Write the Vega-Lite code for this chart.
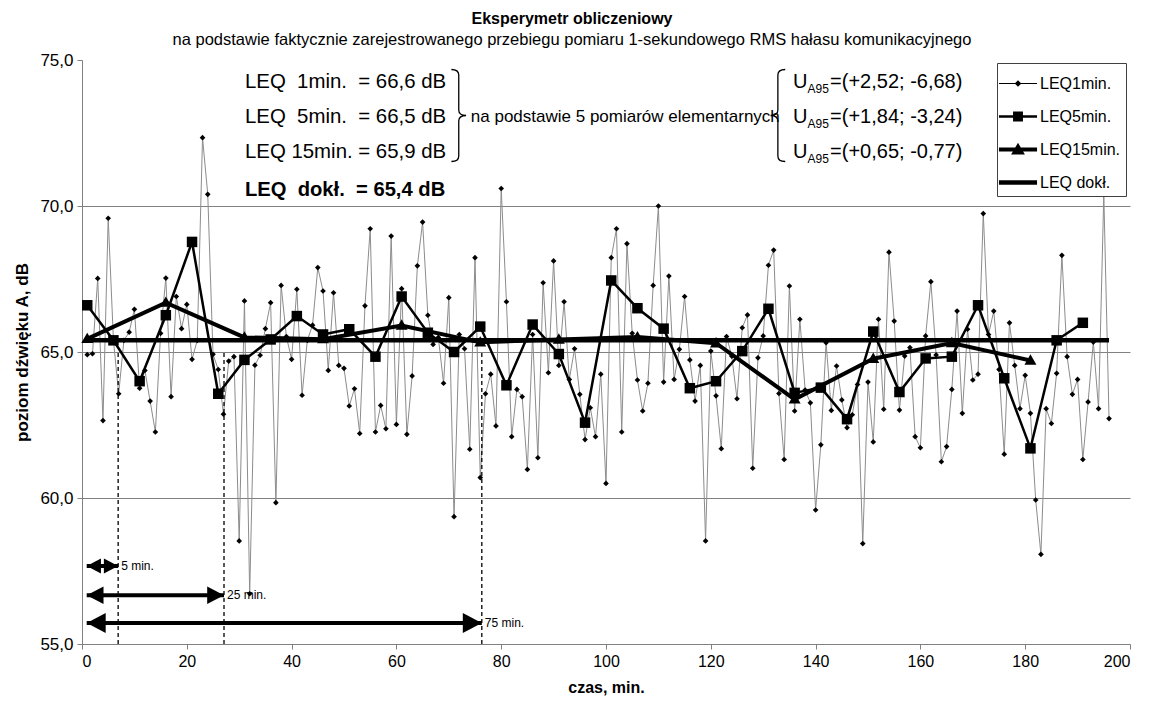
{
  "$schema": "https://vega.github.io/schema/vega-lite/v6.json",
  "width": 1048,
  "height": 584,
  "autosize": {"type": "none"},
  "padding": {"left": 82, "top": 60, "right": 19, "bottom": 66},
  "background": "white",
  "config": {
    "font": "Liberation Sans",
    "view": {"stroke": null},
    "axis": {
      "labelFont": "Liberation Sans",
      "titleFont": "Liberation Sans",
      "labelColor": "black",
      "titleColor": "black",
      "domainColor": "#808080",
      "tickColor": "#808080",
      "tickSize": 5
    }
  },
  "title": {
    "text": "Eksperymetr obliczeniowy",
    "subtitle": "na podstawie faktycznie zarejestrowanego przebiegu pomiaru 1-sekundowego RMS hałasu komunikacyjnego",
    "anchor": "middle",
    "frame": "group",
    "dx": -34,
    "offset": 3,
    "font": "Liberation Sans",
    "fontSize": 16,
    "fontWeight": "bold",
    "color": "black",
    "subtitleFont": "Liberation Sans",
    "subtitleFontSize": 16.5,
    "subtitleColor": "black",
    "subtitlePadding": 5
  },
  "datasets": {
    "leq1": [
      {"t":1,"v":64.91},{"t":2,"v":64.94},{"t":3,"v":67.52},{"t":4,"v":62.65},{"t":5,"v":69.58},
      {"t":6,"v":65.4},{"t":7,"v":63.57},{"t":8,"v":65.4},{"t":9,"v":65.68},{"t":10,"v":66.46},
      {"t":11,"v":63.76},{"t":12,"v":64.37},{"t":13,"v":63.32},{"t":14,"v":62.26},{"t":15,"v":65.64},
      {"t":16,"v":67.53},{"t":17,"v":63.47},{"t":18,"v":66.9},{"t":19,"v":65.8},{"t":20,"v":66.63},
      {"t":21,"v":64.75},{"t":22,"v":65.4},{"t":23,"v":72.34},{"t":24,"v":70.4},{"t":25,"v":64.92},
      {"t":26,"v":64.4},{"t":27,"v":62.87},{"t":28,"v":64.69},{"t":29,"v":64.84},{"t":30,"v":58.53},
      {"t":31,"v":66.75},{"t":32,"v":56.72},{"t":33,"v":64.55},{"t":34,"v":64.89},{"t":35,"v":65.8},
      {"t":36,"v":66.69},{"t":37,"v":59.84},{"t":38,"v":67.28},{"t":39,"v":65.53},{"t":40,"v":64.75},
      {"t":41,"v":67.15},{"t":42,"v":63.52},{"t":43,"v":65.4},{"t":44,"v":65.92},{"t":45,"v":67.89},
      {"t":46,"v":67.09},{"t":47,"v":64.37},{"t":48,"v":67.03},{"t":49,"v":64.54},{"t":50,"v":64.44},
      {"t":51,"v":63.15},{"t":52,"v":63.74},{"t":53,"v":62.21},{"t":54,"v":66.58},{"t":55,"v":69.22},
      {"t":56,"v":62.26},{"t":57,"v":63.17},{"t":58,"v":62.37},{"t":59,"v":68.97},{"t":60,"v":62.52},
      {"t":61,"v":67.17},{"t":62,"v":62.18},{"t":63,"v":64.18},{"t":64,"v":67.95},{"t":65,"v":69.45},
      {"t":66,"v":66.26},{"t":67,"v":65.26},{"t":68,"v":65.5},{"t":69,"v":63.93},{"t":70,"v":66.86},
      {"t":71,"v":59.36},{"t":72,"v":65.6},{"t":73,"v":65.11},{"t":74,"v":61.67},{"t":75,"v":68.23},
      {"t":76,"v":60.7},{"t":77,"v":63.57},{"t":78,"v":64.24},{"t":79,"v":62.47},{"t":80,"v":70.6},
      {"t":81,"v":66.72},{"t":82,"v":62.1},{"t":83,"v":63.72},{"t":84,"v":63.47},{"t":85,"v":60.98},
      {"t":86,"v":65.6},{"t":87,"v":61.38},{"t":88,"v":67.37},{"t":89,"v":64.29},{"t":90,"v":68.12},
      {"t":91,"v":64.54},{"t":92,"v":66.72},{"t":93,"v":64.06},{"t":94,"v":65.11},{"t":95,"v":63.55},
      {"t":96,"v":62.0},{"t":97,"v":63.09},{"t":98,"v":62.1},{"t":99,"v":64.24},{"t":100,"v":60.5},
      {"t":101,"v":68.23},{"t":102,"v":69.22},{"t":103,"v":62.26},{"t":104,"v":68.71},{"t":105,"v":65.64},
      {"t":106,"v":64.04},{"t":107,"v":62.98},{"t":108,"v":63.93},{"t":109,"v":67.28},{"t":110,"v":70.0},
      {"t":111,"v":63.97},{"t":112,"v":67.6},{"t":113,"v":64.06},{"t":114,"v":65.09},{"t":115,"v":66.9},
      {"t":116,"v":64.73},{"t":117,"v":63.32},{"t":118,"v":64.54},{"t":119,"v":58.53},{"t":120,"v":65.03},
      {"t":121,"v":63.5},{"t":122,"v":61.69},{"t":123,"v":65.53},{"t":124,"v":64.86},{"t":125,"v":63.4},
      {"t":126,"v":65.83},{"t":127,"v":66.27},{"t":128,"v":61.02},{"t":129,"v":64.8},{"t":130,"v":65.55},
      {"t":131,"v":67.97},{"t":132,"v":68.49},{"t":133,"v":63.58},{"t":134,"v":61.32},{"t":135,"v":67.26},
      {"t":136,"v":62.98},{"t":137,"v":66.12},{"t":138,"v":63.7},{"t":139,"v":63.26},{"t":140,"v":59.59},
      {"t":141,"v":61.82},{"t":142,"v":65.32},{"t":143,"v":63.0},{"t":144,"v":64.52},{"t":145,"v":63.36},
      {"t":146,"v":62.41},{"t":147,"v":62.85},{"t":148,"v":63.89},{"t":149,"v":58.44},{"t":150,"v":63.97},
      {"t":151,"v":61.92},{"t":152,"v":66.12},{"t":153,"v":63.04},{"t":154,"v":68.42},{"t":155,"v":66.06},
      {"t":156,"v":63.01},{"t":157,"v":64.86},{"t":158,"v":65.15},{"t":159,"v":62.1},{"t":160,"v":61.72},
      {"t":161,"v":65.55},{"t":162,"v":67.41},{"t":163,"v":64.9},{"t":164,"v":61.24},{"t":165,"v":61.76},
      {"t":166,"v":63.72},{"t":167,"v":66.4},{"t":168,"v":62.9},{"t":169,"v":65.78},{"t":170,"v":64.04},
      {"t":171,"v":64.24},{"t":172,"v":69.74},{"t":173,"v":65.6},{"t":174,"v":66.4},{"t":175,"v":64.4},
      {"t":176,"v":61.5},{"t":177,"v":66.0},{"t":178,"v":64.54},{"t":179,"v":63.06},{"t":180,"v":64.2},
      {"t":181,"v":62.9},{"t":182,"v":59.93},{"t":183,"v":58.07},{"t":184,"v":63.06},{"t":185,"v":62.55},
      {"t":186,"v":64.27},{"t":187,"v":68.31},{"t":188,"v":64.84},{"t":189,"v":63.55},{"t":190,"v":64.06},
      {"t":191,"v":61.32},{"t":192,"v":63.29},{"t":193,"v":65.34},{"t":194,"v":63.06},{"t":195,"v":70.4},
      {"t":196,"v":62.72}
    ],
    "leq5": [
      {"t":1,"v":66.6},{"t":6,"v":65.4},{"t":11,"v":64.0},{"t":16,"v":66.26},{"t":21,"v":68.77},
      {"t":26,"v":63.57},{"t":31,"v":64.73},{"t":36,"v":65.43},{"t":41,"v":66.23},{"t":46,"v":65.6},
      {"t":51,"v":65.78},{"t":56,"v":64.84},{"t":61,"v":66.9},{"t":66,"v":65.66},{"t":71,"v":65.0},
      {"t":76,"v":65.87},{"t":81,"v":63.86},{"t":86,"v":65.94},{"t":91,"v":64.93},{"t":96,"v":62.58},
      {"t":101,"v":67.45},{"t":106,"v":66.5},{"t":111,"v":65.8},{"t":116,"v":63.76},{"t":121,"v":64.0},
      {"t":126,"v":65.03},{"t":131,"v":66.48},{"t":136,"v":63.6},{"t":141,"v":63.78},{"t":146,"v":62.7},
      {"t":151,"v":65.7},{"t":156,"v":63.63},{"t":161,"v":64.78},{"t":166,"v":64.84},{"t":171,"v":66.6},
      {"t":176,"v":64.1},{"t":181,"v":61.7},{"t":186,"v":65.4},{"t":191,"v":66.0}
    ],
    "leq15": [
      {"t":1,"v":65.45},{"t":16,"v":66.69},{"t":31,"v":65.5},{"t":46,"v":65.44},{"t":61,"v":65.91},
      {"t":76,"v":65.33},{"t":91,"v":65.43},{"t":106,"v":65.51},{"t":121,"v":65.3},{"t":136,"v":63.38},
      {"t":151,"v":64.77},{"t":166,"v":65.31},{"t":181,"v":64.71}
    ],
    "dokl": [{"t":1,"v":65.4},{"t":196,"v":65.4}],
    "arrows": [
      {"label":"5 min.","x1":0.9,"x2":6.9,"y":57.67},
      {"label":"25 min.","x1":0.9,"x2":27.1,"y":56.67},
      {"label":"75 min.","x1":0.9,"x2":76.3,"y":55.72}
    ],
    "notes": [
      {"t":31.1,"v":74.24,"text":"LEQ\u00a0\u00a01min.\u00a0\u00a0= 66,6 dB"},
      {"t":31.1,"v":73.04,"text":"LEQ\u00a0\u00a05min.\u00a0\u00a0= 66,5 dB"},
      {"t":31.1,"v":71.84,"text":"LEQ 15min. = 65,9 dB"}
    ],
    "bold": [{"t":31.1,"v":70.54,"text":"LEQ\u00a0\u00a0dokł.\u00a0\u00a0= 65,4 dB"}],
    "mid": [{"t":74.2,"v":73.04,"text":"na podstawie 5 pomiarów elementarnych"}],
    "ua": [
      {"t":135.7,"v":74.24,"rest":"=(+2,52; -6,68)"},
      {"t":135.7,"v":73.04,"rest":"=(+1,84; -3,24)"},
      {"t":135.7,"v":71.84,"rest":"=(+0,65; -0,77)"}
    ],
    "braces": [
      {"t":71.9,"v":73.1,"kind":"close"},
      {"t":132.8,"v":73.1,"kind":"open"}
    ]
  },
  "layer": [
    {
      "data": {"name": "leq1"},
      "mark": {"type": "line", "color": "#8c8c8c", "strokeWidth": 1},
      "encoding": {
        "x": {"field": "t", "type": "quantitative", "scale": {"domain": [0, 200], "nice": false, "zero": false},
          "axis": {"title": "czas, min.", "values": [0,20,40,60,80,100,120,140,160,180,200], "grid": false,
            "labelFontSize": 16, "titleFontSize": 16, "titleFontWeight": "bold", "labelPadding": 4, "titlePadding": 10}},
        "y": {"field": "v", "type": "quantitative", "scale": {"domain": [55, 75], "nice": false, "zero": false},
          "axis": {"title": "poziom dźwięku A, dB", "values": [55,60,65,70,75],
            "labelExpr": "replace(format(datum.value, '.1f'), '.', ',')",
            "grid": true, "gridColor": "#808080",
            "gridOpacity": {"condition": {"test": "datum.value == 55 || datum.value == 75", "value": 0}, "value": 1},
            "labelFontSize": 17, "titleFontSize": 17, "titleFontWeight": "bold", "labelPadding": 4, "titlePadding": 8}}
      }
    },
    {
      "data": {"name": "leq1"},
      "mark": {"type": "point", "shape": "diamond", "filled": true, "color": "black", "size": 32, "opacity": 1},
      "encoding": {
        "x": {"field": "t", "type": "quantitative", "scale": {"domain": [0, 200], "nice": false, "zero": false}},
        "y": {"field": "v", "type": "quantitative", "scale": {"domain": [55, 75], "nice": false, "zero": false}}
      }
    },
    {
      "data": {"name": "leq5"},
      "mark": {"type": "line", "color": "black", "strokeWidth": 2.5},
      "encoding": {
        "x": {"field": "t", "type": "quantitative", "scale": {"domain": [0, 200], "nice": false, "zero": false}},
        "y": {"field": "v", "type": "quantitative", "scale": {"domain": [55, 75], "nice": false, "zero": false}}
      }
    },
    {
      "data": {"name": "leq5"},
      "mark": {"type": "point", "shape": "square", "filled": true, "color": "black", "size": 110, "opacity": 1},
      "encoding": {
        "x": {"field": "t", "type": "quantitative", "scale": {"domain": [0, 200], "nice": false, "zero": false}},
        "y": {"field": "v", "type": "quantitative", "scale": {"domain": [55, 75], "nice": false, "zero": false}}
      }
    },
    {
      "data": {"name": "leq15"},
      "mark": {"type": "line", "color": "black", "strokeWidth": 4},
      "encoding": {
        "x": {"field": "t", "type": "quantitative", "scale": {"domain": [0, 200], "nice": false, "zero": false}},
        "y": {"field": "v", "type": "quantitative", "scale": {"domain": [55, 75], "nice": false, "zero": false}}
      }
    },
    {
      "data": {"name": "leq15"},
      "mark": {"type": "point", "shape": "M0,-0.62L0.6,0.42L-0.6,0.42Z", "filled": true, "color": "black", "size": 400, "opacity": 1},
      "encoding": {
        "x": {"field": "t", "type": "quantitative", "scale": {"domain": [0, 200], "nice": false, "zero": false}},
        "y": {"field": "v", "type": "quantitative", "scale": {"domain": [55, 75], "nice": false, "zero": false}}
      }
    },
    {
      "data": {"name": "dokl"},
      "mark": {"type": "line", "strokeWidth": 4.5},
      "encoding": {
        "x": {"field": "t", "type": "quantitative", "scale": {"domain": [0, 200], "nice": false, "zero": false}},
        "y": {"field": "v", "type": "quantitative", "scale": {"domain": [55, 75], "nice": false, "zero": false}},
        "color": {"datum": "LEQ dokł.", "type": "nominal",
          "scale": {"domain": ["LEQ1min.", "LEQ5min.", "LEQ15min.", "LEQ dokł."], "range": ["black", "black", "black", "black"]},
          "legend": {"orient": "none", "legendX": 915, "legendY": 3, "title": null,
            "symbolSize": 900, "symbolOffset": 0.5,
            "labelFont": "Liberation Sans", "labelFontSize": 16, "labelColor": "black", "labelOffset": 7,
            "rowPadding": 10, "padding": 5.5, "strokeColor": "#404040", "fillColor": "white",
            "encode": {"symbols": {"update": {
              "shape": {"signal": "datum.value == 'LEQ1min.' ? 'M-1.27,-0.03H1.27V0.03H-1.27ZM0,-0.22L0.22,0L0,0.22L-0.22,0Z' : datum.value == 'LEQ5min.' ? 'M-1.27,-0.08H1.27V0.08H-1.27ZM-0.33,-0.33H0.33V0.33H-0.33Z' : datum.value == 'LEQ15min.' ? 'M-1.27,-0.13H1.27V0.13H-1.27ZM0,-0.45L0.46,0.33L-0.46,0.33Z' : 'M-1.27,-0.15H1.27V0.15H-1.27Z'"},
              "fill": {"value": "black"},
              "fillOpacity": {"value": 1},
              "stroke": {"value": "transparent"},
              "strokeWidth": {"value": 0},
              "opacity": {"value": 1}
            }}}}}
      }
    },
    {
      "data": {"name": "arrows"},
      "mark": {"type": "rule", "color": "black", "strokeWidth": 1.3, "strokeDash": [4, 3]},
      "encoding": {
        "x": {"field": "x2", "type": "quantitative", "scale": {"domain": [0, 200], "nice": false, "zero": false}},
        "y": {"datum": 55, "type": "quantitative", "scale": {"domain": [55, 75], "nice": false, "zero": false}},
        "y2": {"datum": 65}
      }
    },
    {
      "data": {"name": "arrows"},
      "mark": {"type": "rule", "color": "black", "strokeWidth": 4},
      "encoding": {
        "x": {"field": "x1", "type": "quantitative", "scale": {"domain": [0, 200], "nice": false, "zero": false}},
        "x2": {"field": "x2"},
        "y": {"field": "y", "type": "quantitative", "scale": {"domain": [55, 75], "nice": false, "zero": false}}
      }
    },
    {
      "data": {"name": "arrows"},
      "mark": {"type": "point", "shape": "M0,0L1.9,-1L1.9,1Z", "filled": true, "color": "black", "opacity": 1},
      "encoding": {
        "x": {"field": "x1", "type": "quantitative", "scale": {"domain": [0, 200], "nice": false, "zero": false}},
        "y": {"field": "y", "type": "quantitative", "scale": {"domain": [55, 75], "nice": false, "zero": false}},
        "size": {"field": "label", "type": "ordinal", "scale": {"domain": ["5 min.", "25 min.", "75 min."], "range": [225, 400, 400]}, "legend": null}
      }
    },
    {
      "data": {"name": "arrows"},
      "mark": {"type": "point", "shape": "M0,0L-1.9,-1L-1.9,1Z", "filled": true, "color": "black", "opacity": 1},
      "encoding": {
        "x": {"field": "x2", "type": "quantitative", "scale": {"domain": [0, 200], "nice": false, "zero": false}},
        "y": {"field": "y", "type": "quantitative", "scale": {"domain": [55, 75], "nice": false, "zero": false}},
        "size": {"field": "label", "type": "ordinal", "scale": {"domain": ["5 min.", "25 min.", "75 min."], "range": [225, 400, 400]}, "legend": null}
      }
    },
    {
      "data": {"name": "arrows"},
      "mark": {"type": "text", "align": "left", "baseline": "middle", "dx": 3, "fontSize": 12, "font": "Liberation Sans", "color": "black"},
      "encoding": {
        "x": {"field": "x2", "type": "quantitative", "scale": {"domain": [0, 200], "nice": false, "zero": false}},
        "y": {"field": "y", "type": "quantitative", "scale": {"domain": [55, 75], "nice": false, "zero": false}},
        "text": {"field": "label"}
      }
    },
    {
      "data": {"name": "notes"},
      "mark": {"type": "text", "align": "left", "baseline": "middle", "fontSize": 20.4, "font": "Liberation Sans", "color": "black"},
      "encoding": {
        "x": {"field": "t", "type": "quantitative", "scale": {"domain": [0, 200], "nice": false, "zero": false}},
        "y": {"field": "v", "type": "quantitative", "scale": {"domain": [55, 75], "nice": false, "zero": false}},
        "text": {"field": "text"}
      }
    },
    {
      "data": {"name": "bold"},
      "mark": {"type": "text", "align": "left", "baseline": "middle", "fontSize": 20.2, "fontWeight": "bold", "font": "Liberation Sans", "color": "black"},
      "encoding": {
        "x": {"field": "t", "type": "quantitative", "scale": {"domain": [0, 200], "nice": false, "zero": false}},
        "y": {"field": "v", "type": "quantitative", "scale": {"domain": [55, 75], "nice": false, "zero": false}},
        "text": {"field": "text"}
      }
    },
    {
      "data": {"name": "mid"},
      "mark": {"type": "text", "align": "left", "baseline": "middle", "fontSize": 17, "font": "Liberation Sans", "color": "black"},
      "encoding": {
        "x": {"field": "t", "type": "quantitative", "scale": {"domain": [0, 200], "nice": false, "zero": false}},
        "y": {"field": "v", "type": "quantitative", "scale": {"domain": [55, 75], "nice": false, "zero": false}},
        "text": {"field": "text"}
      }
    },
    {
      "data": {"name": "ua"},
      "mark": {"type": "text", "align": "left", "baseline": "middle", "fontSize": 20, "font": "Liberation Sans", "color": "black"},
      "encoding": {
        "x": {"field": "t", "type": "quantitative", "scale": {"domain": [0, 200], "nice": false, "zero": false}},
        "y": {"field": "v", "type": "quantitative", "scale": {"domain": [55, 75], "nice": false, "zero": false}},
        "text": {"value": "U"}
      }
    },
    {
      "data": {"name": "ua"},
      "mark": {"type": "text", "align": "left", "baseline": "middle", "dx": 14.4, "dy": 7, "fontSize": 12, "font": "Liberation Sans", "color": "black"},
      "encoding": {
        "x": {"field": "t", "type": "quantitative", "scale": {"domain": [0, 200], "nice": false, "zero": false}},
        "y": {"field": "v", "type": "quantitative", "scale": {"domain": [55, 75], "nice": false, "zero": false}},
        "text": {"value": "A95"}
      }
    },
    {
      "data": {"name": "ua"},
      "mark": {"type": "text", "align": "left", "baseline": "middle", "dx": 37, "fontSize": 20, "font": "Liberation Sans", "color": "black"},
      "encoding": {
        "x": {"field": "t", "type": "quantitative", "scale": {"domain": [0, 200], "nice": false, "zero": false}},
        "y": {"field": "v", "type": "quantitative", "scale": {"domain": [55, 75], "nice": false, "zero": false}},
        "text": {"field": "rest"}
      }
    },
    {
      "data": {"name": "braces"},
      "mark": {"type": "point", "filled": false, "color": "black", "strokeWidth": 1.3, "size": 8464, "opacity": 1},
      "encoding": {
        "x": {"field": "t", "type": "quantitative", "scale": {"domain": [0, 200], "nice": false, "zero": false}},
        "y": {"field": "v", "type": "quantitative", "scale": {"domain": [55, 75], "nice": false, "zero": false}},
        "shape": {"field": "kind", "type": "nominal", "legend": null,
          "scale": {"domain": ["close", "open"], "range": [
            "M-0.16,-1Q0,-1 0,-0.88L0,-0.12Q0,0 0.16,0Q0,0 0,0.12L0,0.88Q0,1 -0.16,1",
            "M0.16,-1Q0,-1 0,-0.88L0,-0.12Q0,0 -0.16,0Q0,0 0,0.12L0,0.88Q0,1 0.16,1"]}}
      }
    }
  ]
}
